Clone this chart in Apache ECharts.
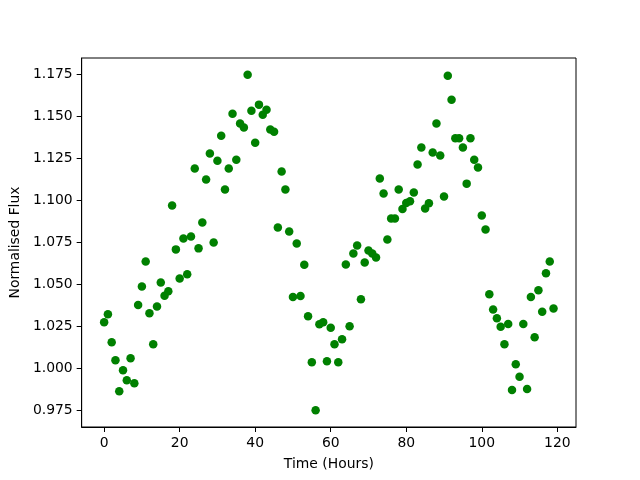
<!DOCTYPE html>
<html>
<head>
<meta charset="utf-8">
<script src="https://cdn.jsdelivr.net/npm/echarts@6/dist/echarts.min.js"></script>
<style>html,body{margin:0;padding:0;background:#fff}#c{width:640px;height:480px}</style>
</head>
<body>
<div id="c"></div>
<script>
const hours = [];
for (let h = 0; h < 120; h++) hours.push(h);
const flux = [
1.0272,1.0320,1.0153,1.0046,0.9861,0.9986,0.9927,1.0058,0.9909,1.0375,
1.0486,1.0635,1.0326,1.0141,1.0367,1.0510,1.0430,1.0457,1.0968,1.0707,
1.0534,1.0772,1.0558,1.0784,1.1189,1.0713,1.0867,1.1123,1.1278,1.0748,
1.1236,1.1385,1.1064,1.1189,1.1516,1.1242,1.1457,1.1433,1.1748,1.1534,
1.1343,1.1570,1.1510,1.1540,1.1421,1.1409,1.0838,1.1171,1.1064,1.0814,
1.0423,1.0742,1.0429,1.0615,1.0308,1.0034,0.9748,1.0260,1.0272,1.0040,
1.0240,1.0141,1.0034,1.0171,1.0617,1.0248,1.0683,1.0730,1.0409,1.0629,
1.0700,1.0683,1.0659,1.1129,1.1040,1.0766,1.0891,1.0891,1.1064,1.0948,
1.0984,1.0994,1.1046,1.1213,1.1314,1.0951,1.0982,1.1284,1.1457,1.1266,
1.1022,1.1742,1.1599,1.1369,1.1369,1.1314,1.1099,1.1369,1.1242,1.1195,
1.0909,1.0826,1.0439,1.0349,1.0296,1.0246,1.0141,1.0262,0.9869,1.0022,
0.9948,1.0262,0.9875,1.0423,1.0183,1.0463,1.0335,1.0564,1.0635,1.0355
];
const xTicks = [0, 20, 40, 60, 80, 100, 120];
const yTicks = [0.975, 1.000, 1.025, 1.050, 1.075, 1.100, 1.125, 1.150, 1.175];

const xMin = -5.95, xMax = 124.95;
const yMin = 0.9648, yMax = 1.1848;
const font = 'DejaVu Sans';
const fs = 13.9;

const chart = echarts.init(document.getElementById('c'), null, {renderer: 'canvas'});
chart.setOption({
  animation: false,
  backgroundColor: '#fff',
  grid: {left: 80, right: 64, top: 58, bottom: 53, show: true, borderColor: '#000', borderWidth: 1, containLabel: false},
  xAxis: {
    type: 'value', min: xMin, max: xMax,
    name: 'Time (Hours)', nameLocation: 'middle', nameGap: 30,
    nameTextStyle: {fontFamily: font, fontSize: fs, color: '#000'},
    axisLine: {show: true, onZero: false, lineStyle: {color: '#000', width: 1}},
    axisTick: {show: true, inside: false, length: 5, lineStyle: {color: '#000'}, customValues: xTicks},
    axisLabel: {show: true, margin: 9, fontFamily: font, fontSize: fs, color: '#000', customValues: xTicks,
      formatter: v => String(Math.round(v))},
    splitLine: {show: false}
  },
  yAxis: {
    type: 'value', min: yMin, max: yMax,
    name: 'Normalised Flux', nameLocation: 'middle', nameGap: 49,
    nameTextStyle: {fontFamily: font, fontSize: fs, color: '#000'},
    axisLine: {show: true, onZero: false, lineStyle: {color: '#000', width: 1}},
    axisTick: {show: true, inside: false, length: 5, lineStyle: {color: '#000'}, customValues: yTicks},
    axisLabel: {show: true, margin: 9, fontFamily: font, fontSize: fs, color: '#000', customValues: yTicks,
      formatter: v => v.toFixed(3)},
    splitLine: {show: false}
  },
  series: [{
    type: 'scatter',
    data: hours.map((h, i) => [h, flux[i]]),
    symbol: 'circle',
    symbolSize: 8.5,
    itemStyle: {color: '#008000', opacity: 1},
    emphasis: {disabled: true}
  }]
});
</script>
</body>
</html>
